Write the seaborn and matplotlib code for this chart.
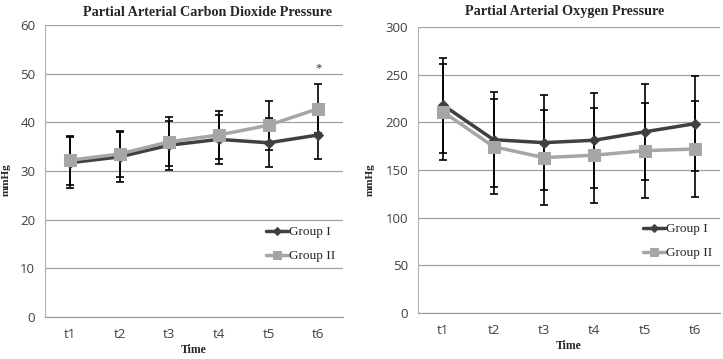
import numpy as np
import pandas as pd
import matplotlib
matplotlib.use("Agg")
import matplotlib.pyplot as plt
import seaborn as sns

times = ["t1", "t2", "t3", "t4", "t5", "t6"]
groups = ["Group I", "Group II"]

co2_g1 = [31.7, 32.9, 35.3, 36.5, 35.8, 37.4]
co2_g2 = [32.2, 33.5, 36.0, 37.4, 39.4, 42.8]
co2_g1_sd = [5.2, 5.2, 5.0, 5.1, 5.0, 5.0]
co2_g2_sd = [5.0, 4.7, 5.0, 5.0, 5.0, 5.0]

o2_g1 = [218, 181.8, 178.7, 181.2, 190, 198.6]
o2_g2 = [211, 174.5, 163.0, 165.5, 170.3, 172]
o2_g1_sd = [50, 50, 50, 50, 50, 50]
o2_g2_sd = [50, 50, 50, 50, 50, 50]

sns.set_theme(style="white")
plt.rcParams["font.family"] = ["DejaVu Sans"]

SERIF = "Liberation Serif"
SANS = "Open Sans"
COLORS = {"Group I": "#404040", "Group II": "#a6a6a6"}
MARKERS = {"Group I": "D", "Group II": "s"}
SIZES = {"Group I": 5, "Group II": 8}

fig = plt.figure(figsize=(7.23, 3.59), dpi=100)
W, H = 723, 359

def mk_axes(l, r, t, b):
    return fig.add_axes([l / W, 1 - b / H, (r - l) / W, (b - t) / H])

def panel(ax, g1, g2, s1, s2, ymax, ystep, title, title_x, ylab_x):
    df = pd.DataFrame({
        "pos": list(range(len(times))) * 2,
        "value": g1 + g2,
        "sd": s1 + s2,
        "group": [groups[0]] * len(times) + [groups[1]] * len(times),
    })
    for g in groups:
        sub = df[df.group == g]
        ax.errorbar(sub["pos"], sub["value"], yerr=sub["sd"], fmt="none",
                    ecolor="black", elinewidth=1.2, capsize=3, capthick=1.2, zorder=2)
    for g in groups:
        sub = df[df.group == g]
        sns.lineplot(data=sub, x="pos", y="value", ax=ax, color=COLORS[g],
                     marker=MARKERS[g], markersize=SIZES[g], markeredgecolor=COLORS[g],
                     linewidth=2.5, label=g, zorder=3)
    ax.set_xlim(-0.5, len(times) - 0.5)
    ax.set_ylim(0, ymax)
    ax.set_yticks(np.arange(0, ymax + 1, ystep))
    ax.set_xticks(range(len(times)))
    ax.set_xticklabels(times)
    ax.set_xticks(np.arange(-0.5, len(times), 1.0), minor=True)
    ax.tick_params(axis="x", which="major", length=0, pad=8, labelsize=9.5, labelcolor="#404040")
    ax.tick_params(axis="x", which="minor", length=4, color="#999999", width=0.8, direction="out")
    ax.tick_params(axis="y", length=4, color="#999999", width=0.8, direction="out",
                   labelsize=9.5, labelcolor="#404040", pad=3)
    for lab in ax.get_xticklabels() + ax.get_yticklabels():
        lab.set_family(SANS)
    ax.grid(axis="y", color="#a0a0a0", linewidth=0.9)
    ax.grid(axis="x", visible=False)
    ax.set_axisbelow(True)
    for s in ["top", "right"]:
        ax.spines[s].set_visible(False)
    ax.spines["left"].set_color("#b0b0b0")
    ax.spines["bottom"].set_color("#999999")
    ax.spines["left"].set_linewidth(0.8)
    ax.spines["bottom"].set_linewidth(0.8)
    ax.set_xlabel("Time", fontfamily=SERIF, fontweight="bold", fontsize=8.5, labelpad=2)
    ax.set_ylabel("mmHg", fontfamily=SERIF, fontweight="bold", fontsize=8)
    ax.yaxis.set_label_coords(ylab_x, 0.5, transform=fig.transFigure)
    fig.text(title_x / W, 1 - 12 / H, title, ha="center", va="center",
             fontfamily=SERIF, fontweight="bold", fontsize=10.2)
    ax.legend(loc="lower right", bbox_to_anchor=(1.0, 0.16), frameon=False,
              prop={"family": SERIF, "size": 9.5}, handlelength=1.6,
              handletextpad=0.1, labelspacing=0.9, borderaxespad=0.2,
              markerscale=0.8)
    return ax

ax1 = mk_axes(45, 343, 25, 317)
panel(ax1, co2_g1, co2_g2, co2_g1_sd, co2_g2_sd, 60, 10,
      "Partial Arterial Carbon Dioxide Pressure", 208, 11 / W)
ax1.text(5, co2_g2[5] + co2_g2_sd[5] + 3.2, "*", ha="center", va="center",
         fontsize=9, fontfamily=SERIF, color="#303030")

ax2 = mk_axes(418, 720, 27, 313)
panel(ax2, o2_g1, o2_g2, o2_g1_sd, o2_g2_sd, 300, 50,
      "Partial Arterial Oxygen Pressure", 565, 375 / W)

fig.savefig("out.png", dpi=100, facecolor="white")
